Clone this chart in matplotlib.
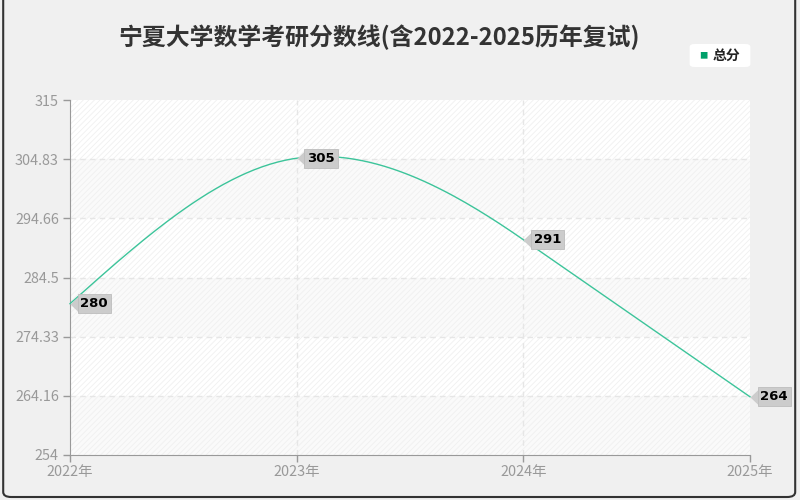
import numpy as np
import matplotlib.pyplot as plt
from matplotlib.patches import FancyBboxPatch
from matplotlib.path import Path

plt.rcParams['font.family'] = ['Noto Sans CJK SC', 'DejaVu Sans']

years = [2022, 2023, 2024, 2025]
year_labels = ['2022年', '2023年', '2024年', '2025年']
scores = [280, 305, 291, 264]
y_ticks = [254, 264.16, 274.33, 284.5, 294.66, 304.83, 315]
y_tick_labels = ['254', '264.16', '274.33', '284.5', '294.66', '304.83', '315']
title = '宁夏大学数学考研分数线(含2022-2025历年复试)'
series_name = '总分'

line_color = '#3cc49a'


# smooth curve through the points (cubic hermite)
def smooth_line(xs, ys, n=60):
    xs = np.asarray(xs, float)
    ys = np.asarray(ys, float)
    sec = np.diff(ys) / np.diff(xs)
    m = np.zeros_like(ys)
    for i in range(1, len(ys) - 1):
        a, b = sec[i - 1], sec[i]
        if a * b <= 0:
            m[i] = (a + b) / 2
        else:
            m[i] = a if abs(a) > abs(b) else b
    m[0] = (3 * sec[0] - m[1]) / 2
    m[-1] = (3 * sec[-1] - m[-2]) / 2
    ox, oy = [], []
    t = np.linspace(0, 1, n)
    for i in range(len(xs) - 1):
        h = xs[i + 1] - xs[i]
        h00 = 2 * t**3 - 3 * t**2 + 1
        h10 = t**3 - 2 * t**2 + t
        h01 = -2 * t**3 + 3 * t**2
        h11 = t**3 - t**2
        ox.extend(xs[i] + t * h)
        oy.extend(h00 * ys[i] + h10 * h * m[i] + h01 * ys[i + 1] + h11 * h * m[i + 1])
    return np.array(ox), np.array(oy)


fig = plt.figure(figsize=(8, 5), dpi=100)
fig.patch.set_facecolor('#f0f0f0')
fig.patches.append(FancyBboxPatch((0.004, 0.006), 0.99, 1.2, boxstyle='round,pad=0,rounding_size=0.01',
                                  transform=fig.transFigure, facecolor='none',
                                  edgecolor='#333333', linewidth=1.5, zorder=0))

ax = fig.add_axes([0.0875, 0.09, 0.85, 0.71])
ax.set_facecolor('white')
ax.set_xlim(years[0], years[-1])
ax.set_ylim(y_ticks[0], y_ticks[-1])

plt.rcParams['hatch.color'] = '#f0f0f0'
plt.rcParams['hatch.linewidth'] = 0.6
for i in range(len(y_ticks) - 1):
    ax.axhspan(y_ticks[i], y_ticks[i + 1], facecolor='#fafafa' if i % 2 == 0 else 'white',
               hatch='//////', edgecolor='#f0f0f0', linewidth=0, zorder=0)

for y in y_ticks[1:-1]:
    ax.axhline(y, color='#e6e6e6', linestyle=(0, (4, 3)), linewidth=1, zorder=1)
for x in years[1:-1]:
    ax.axvline(x, color='#e6e6e6', linestyle=(0, (4, 3)), linewidth=1, zorder=1)

sx, sy = smooth_line(years, scores)
ax.plot(sx, sy, color=line_color, linewidth=1, zorder=3, clip_on=False)

# small left pointing tip for value labels
tip = Path([(0, 0), (1, 0.95), (1, -0.95), (0, 0)],
           [Path.MOVETO, Path.LINETO, Path.LINETO, Path.CLOSEPOLY])
ax.plot(years, scores, linestyle='none', marker=tip, markersize=14, color='#cccccc',
        markeredgewidth=0, zorder=5, clip_on=False)
for x, y in zip(years, scores):
    ax.annotate(str(y), (x, y), xytext=(7.5, 0), textcoords='offset points',
                ha='left', va='center', fontsize=9.5, fontweight='bold', color='black',
                family='DejaVu Sans',
                bbox=dict(boxstyle='square,pad=0.22', facecolor='#cccccc', edgecolor='#bdbdbd',
                          linewidth=0.6),
                zorder=6, annotation_clip=False)

ax.set_xticks(years)
ax.set_xticklabels(year_labels)
ax.set_yticks(y_ticks)
ax.set_yticklabels(y_tick_labels)
ax.tick_params(axis='both', colors='#999999', labelcolor='#999999', labelsize=10.4, length=5, width=1)
ax.tick_params(axis='x', pad=2)
ax.tick_params(axis='y', pad=3)
for s in ['top', 'right']:
    ax.spines[s].set_visible(False)
ax.spines['left'].set_color('#999999')
ax.spines['bottom'].set_color('#999999')

fig.text(0.474, 0.926, title, ha='center', va='center', fontsize=17.2, fontweight='bold', color='#333333')

fig.patches.append(FancyBboxPatch((0.862, 0.866), 0.076, 0.046, boxstyle='round,pad=0,rounding_size=0.006',
                                  transform=fig.transFigure, facecolor='white', edgecolor='none'))
fig.text(0.879, 0.889, '■', ha='center', va='center', fontsize=6, color='#00a06a')
fig.text(0.891, 0.889, series_name, ha='left', va='center', fontsize=10, fontweight='bold', color='#222222')

fig.savefig('out.png', dpi=100)
